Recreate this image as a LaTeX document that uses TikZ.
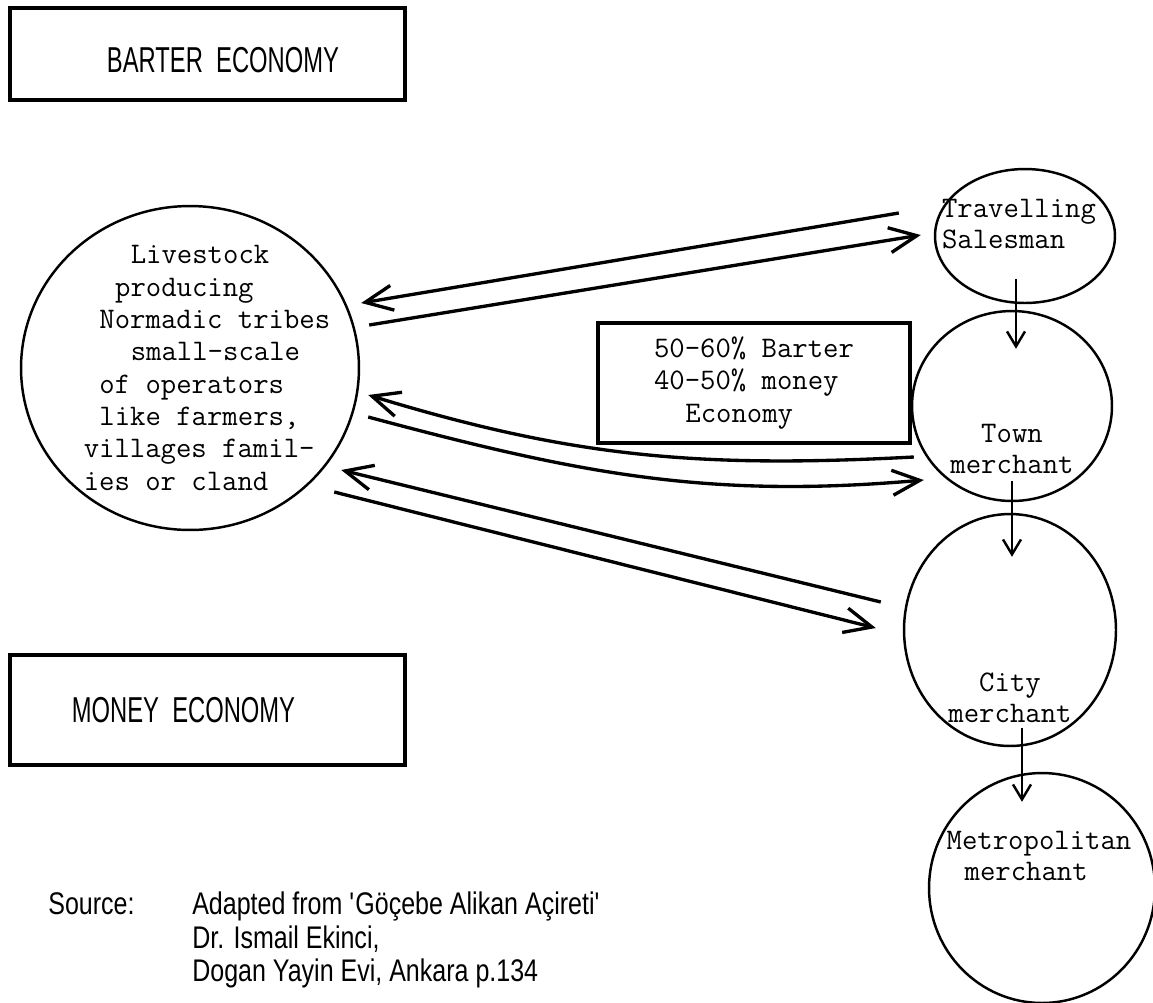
\documentclass[tikz,border=0pt]{standalone}
\usepackage{fontspec}
\newfontfamily\narrowsans[FakeStretch=0.66]{Liberation Sans}
\newfontfamily\sourcesans[FakeStretch=0.8]{Liberation Sans}
\usetikzlibrary{
  shapes.geometric,
  arrows.meta,
  positioning
}
\tikzset{
  stagecircle/.style={
    draw=black, ellipse, line width=1.4pt, inner sep=0pt
  },
  titlebox/.style={
    draw=black, rectangle, line width=2pt, inner sep=0pt
  },
  sharebox/.style={
    draw=black, rectangle, line width=2pt, align=left,
    font=\ttfamily\fontsize{17}{18.6}\selectfont
  },
  stagetext/.style={
    font=\ttfamily\fontsize{17}{17.6}\selectfont, inner sep=0pt
  },
  titletext/.style={
    font=\narrowsans\fontsize{20.5}{24}\selectfont, inner sep=0pt
  },
  tradearrow/.style={
    -{Straight Barb[length=0.55cm,width=0.5cm]}, line width=1.9pt
  },
  chainarrow/.style={
    -{Straight Barb[length=0.3cm,width=0.36cm]}, line width=1.4pt
  },
  srctext/.style={
    font=\sourcesans\fontsize{17.8}{19.3}\selectfont, inner sep=0pt
  },
}

\begin{document}
\begin{tikzpicture}[x=0.02cm, y=-0.02cm]

  \useasboundingbox (0,0) rectangle (1153,1002);

  %% Economy boxes
  \node[titlebox, minimum width=7.9cm, minimum height=1.84cm,
    label={[titletext, xshift=0.31cm, yshift=-0.12cm]center:BARTER~~ECONOMY}]
    (barter) at (207.5,54) {};
  \node[titlebox, minimum width=7.9cm, minimum height=2.2cm,
    label={[titletext, xshift=-0.48cm]center:MONEY~~ECONOMY}]
    (money) at (207.5,710) {};

  %% Producers
  \node[stagecircle, minimum width=6.76cm, minimum height=6.48cm,
    label={[stagetext, align=left, xshift=0.34cm,
      font=\ttfamily\fontsize{17}{18.4}\selectfont]center:{%
      \hspace*{1.575em}Livestock\\
      \hspace*{1.05em}producing\\
      \hspace*{0.525em}Normadic tribes\\
      \hspace*{1.575em}small-scale\\
      \hspace*{0.525em}of operators\\
      \hspace*{0.525em}like farmers,\\
      villages famil-\\
      ies or cland}}]
    (tribes) at (190,368) {};

  %% Merchant chain
  \node[stagecircle, minimum width=3.6cm, minimum height=2.68cm,
    label={[stagetext, align=left, xshift=-0.12cm, yshift=0.24cm]center:{%
      Travelling\\Salesman}}]
    (trav) at (1025,236) {};
  \node[stagecircle, minimum width=4.0cm, minimum height=3.8cm,
    label={[stagetext, align=center, yshift=-0.86cm]center:{%
      Town\\merchant}}]
    (town) at (1012,406) {};
  \node[stagecircle, minimum width=4.24cm, minimum height=4.64cm,
    label={[stagetext, align=center, yshift=-1.36cm]center:{%
      City\\merchant}}]
    (city) at (1010,630) {};
  \node[stagecircle, minimum width=4.52cm, minimum height=4.6cm,
    label={[stagetext, align=left, xshift=-0.06cm, yshift=0.64cm]center:{%
      Metropolitan\\\hspace*{0.6em}merchant}}]
    (metro) at (1042,888) {};

  %% Mixed economy
  \node[sharebox, minimum width=6.24cm, minimum height=2.4cm]
    (mix) at (754,383)
    {50-60\% Barter\\40-50\% money\\\hspace*{1.05em}Economy};

  %% Exchange between tribes and merchants
  \draw[tradearrow]
    ([shift={(-35,-23)}]trav.west) -- ([shift={(1,-65)}]tribes.east);
  \draw[tradearrow]
    ([shift={(9,-43)}]tribes.east) -- ([shift={(-13,-1)}]trav.west);

  \draw[tradearrow]
    ([shift={(3,51)}]town.west) to[out=183, in=-17]
    ([shift={(8,27)}]tribes.east);
  \draw[tradearrow]
    ([shift={(8,49)}]tribes.east) to[out=-15, in=185]
    ([shift={(13,74)}]town.west);

  \draw[tradearrow]
    ([shift={(-22,-28)}]city.west) -- ([shift={(-19,102)}]tribes.east);
  \draw[tradearrow]
    ([shift={(-26,124)}]tribes.east) -- ([shift={(-27,-2)}]city.west);

  %% Down the chain
  \draw[chainarrow]
    ([shift={(-9,-25)}]trav.south) -- ([shift={(4,39)}]town.north);
  \draw[chainarrow]
    ([shift={(0,-21)}]town.south) -- ([shift={(2,44)}]city.north);
  \draw[chainarrow]
    ([shift={(12,-19)}]city.south) -- ([shift={(-20,30)}]metro.north);

  %% Source
  \node[srctext, anchor=north west] (source) at (48,890) {%
    \begin{tabular}{@{}p{2.88cm}@{}l@{}}
      Source: & Adapted from \textquotesingle G\"o\c{c}ebe Alikan A\c{c}ireti\textquotesingle\\
       & Dr. Ismail Ekinci,\\
       & Dogan Yayin Evi, Ankara p.134
    \end{tabular}};

\end{tikzpicture}
\end{document}
